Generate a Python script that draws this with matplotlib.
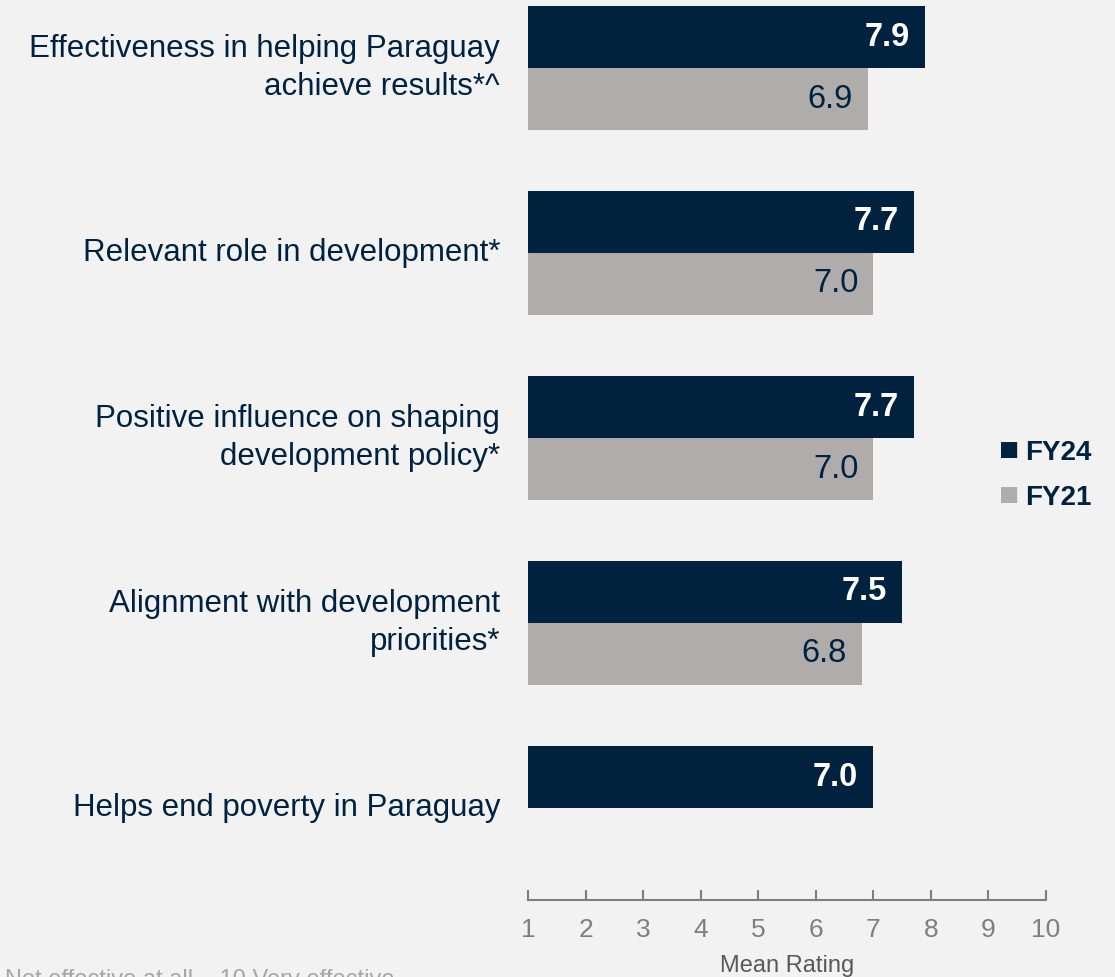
import numpy as np
import matplotlib.pyplot as plt

categories = ["Effectiveness in helping Paraguay\nachieve results*^",
              "Relevant role in development*",
              "Positive influence on shaping\ndevelopment policy*",
              "Alignment with development\npriorities*",
              "Helps end poverty in Paraguay"]
fy24 = [7.9, 7.7, 7.7, 7.5, 7.0]
fy21 = [6.9, 7.0, 7.0, 6.8, None]

navy = "#00223F"
grey = "#AFACAB"
bg = "#F2F2F2"
base = 1

plt.rcParams['font.family'] = ['Liberation Sans', 'DejaVu Sans']
fig = plt.figure(figsize=(11.15, 9.77), dpi=100, facecolor=bg)
ax = fig.add_axes([528/1115, 1 - 900/977, (1046-528)/1115, 900/977])
ax.set_facecolor(bg)

y = np.arange(len(categories))
h = 62/185
for i in range(len(categories)):
    ax.barh(y[i] - h/2, fy24[i] - base, left=base, height=h, color=navy)
    ax.text(fy24[i] - 0.26, y[i] - h/2, f"{fy24[i]:.1f}", ha='right', va='center',
            color='white', fontsize=23.5, fontweight='bold')
    if fy21[i] is not None:
        ax.barh(y[i] + h/2, fy21[i] - base, left=base, height=h, color=grey)
        ax.text(fy21[i] - 0.26, y[i] + h/2, f"{fy21[i]:.1f}", ha='right', va='center',
                color=navy, fontsize=23.5)
    ax.text(base - 28/57.6, y[i], categories[i], ha='right',
            va='center', color=navy, fontsize=22.5, linespacing=1.32)

ax.set_xlim(1, 10)
ax.set_ylim(832/185, -68/185)
ax.set_xticks(range(1, 11))
ax.set_yticks([])
for s in ['top', 'right', 'left']:
    ax.spines[s].set_visible(False)
ax.spines['bottom'].set_color('#7F7F7F')
ax.spines['bottom'].set_linewidth(1.5)
ax.tick_params(axis='x', direction='in', length=7, width=1.5, color='#7F7F7F',
               labelcolor='#7F7F7F', labelsize=19, pad=13)
ax.set_xlabel("Mean Rating", fontsize=17, color='#595959', labelpad=9)

# legend
fig.text(999/1115, 1 - 452/977, "■", color=navy, fontsize=24, va='center', ha='left')
fig.text(1025/1115, 1 - 453/977, "FY24", color=navy, fontsize=20, fontweight='bold', va='center')
fig.text(999/1115, 1 - 497/977, "■", color=grey, fontsize=24, va='center', ha='left')
fig.text(1025/1115, 1 - 498/977, "FY21", color=navy, fontsize=20, fontweight='bold', va='center')

fig.text(5/1115, 1 - 980/977, "Not effective at all \u2013 10 Very effective", color='#A6A6A6',
         fontsize=17, va='center', ha='left')

fig.savefig("out.png", dpi=100, facecolor=bg)
